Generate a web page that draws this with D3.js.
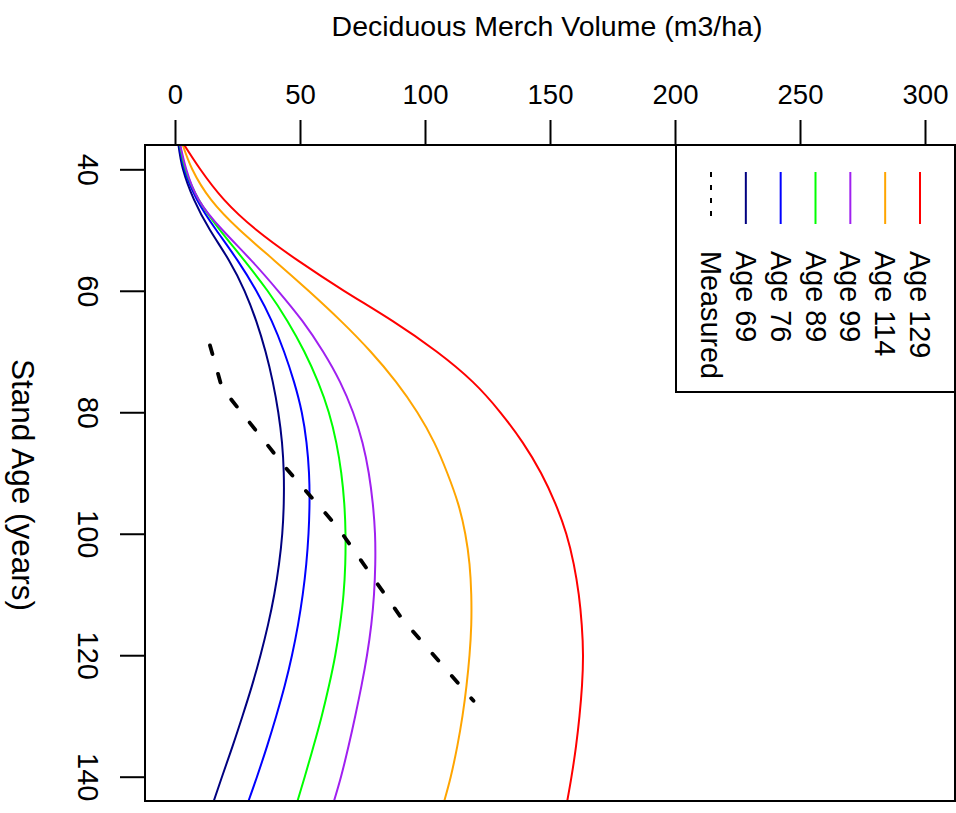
<!DOCTYPE html>
<html>
<head>
<meta charset="utf-8">
<script src="https://cdn.jsdelivr.net/npm/d3@7"></script>
<style>
  html, body { margin: 0; padding: 0; background: #ffffff; }
  svg text { font-family: "Liberation Sans", Arial, Helvetica, sans-serif; fill: #000; }
</style>
</head>
<body>
<svg id="chart" width="956" height="813"></svg>
<script>
// Stand age grid (years) on which the projected volume curves are tabulated
const ages = [36, 40, 45, 50, 55, 60, 65, 70, 75, 80, 85, 90, 95, 100, 105, 110, 115, 120, 125, 130, 135, 140, 144];

// Projected deciduous merchantable volume (m3/ha), one series per calibration age
const age69  = [1.4, 3.2, 7.6, 14.0, 21.6, 27.8, 32.5, 36.2, 39.1, 41.3, 42.8, 43.5, 43.5, 42.9, 41.6, 39.7, 37.2, 34.2, 30.8, 27.0, 23.0, 18.8, 15.5];
const age76  = [1.7, 3.7, 8.8, 16.5, 25.0, 32.5, 38.7, 43.6, 47.6, 50.7, 52.6, 53.6, 53.8, 53.4, 52.5, 51.1, 49.2, 46.8, 43.9, 40.5, 36.8, 32.8, 29.4];
const age89  = [2.0, 4.2, 9.5, 18.0, 27.7, 37.0, 45.0, 51.7, 57.2, 61.5, 64.5, 66.5, 67.7, 68.2, 68.1, 67.4, 66.0, 64.1, 61.6, 58.7, 55.4, 51.9, 49.0];
const age99  = [2.1, 4.5, 9.5, 19.0, 30.5, 41.2, 51.0, 59.2, 66.0, 71.2, 75.0, 77.5, 79.1, 80.0, 80.1, 79.6, 78.5, 76.8, 74.6, 72.1, 69.4, 66.4, 63.6];
const age114 = [3.1, 6.9, 14.4, 25.9, 39.7, 53.4, 66.4, 78.2, 88.4, 96.9, 103.7, 108.9, 113.2, 116.1, 117.8, 118.5, 118.5, 117.8, 116.6, 115.0, 112.9, 110.3, 107.7];
const age129 = [3.7, 10.1, 19.6, 32.6, 49.1, 67.6, 87.1, 104.6, 119.1, 130.1, 139.1, 146.4, 152.1, 156.5, 159.5, 161.5, 162.7, 163.2, 162.8, 161.8, 160.4, 158.6, 156.9];

// Measured stand volume
const measuredAges = [69, 76, 89, 99, 114, 127.5];
const measuredVol  = [14.0, 18.8, 44.0, 65.2, 90.8, 119.4];

// Legend entries (left to right) and axis ticks
const legendLabels = ["Measured", "Age 69", "Age 76", "Age 89", "Age 99", "Age 114", "Age 129"];
const legendColors = ["#000000", "#000080", "#0000FF", "#00FF00", "#A020F0", "#FFA500", "#FF0000"];
const volumeTicks = [0, 50, 100, 150, 200, 250, 300];
const ageTicks = [40, 60, 80, 100, 120, 140];

const seriesList = [
  { values: age69,  color: "#000080" },
  { values: age76,  color: "#0000FF" },
  { values: age89,  color: "#00FF00" },
  { values: age99,  color: "#A020F0" },
  { values: age114, color: "#FFA500" },
  { values: age129, color: "#FF0000" }
];

const svg = d3.select("#chart");
const plot = { left: 145, right: 955, top: 145, bottom: 801 };

// Volume runs left to right along the top; stand age runs downward
const x = d3.scaleLinear().domain([-12, 312]).range([plot.left, plot.right]);
const y = d3.scaleLinear().domain([36, 144]).range([plot.top, plot.bottom]);

svg.append("defs").append("clipPath").attr("id", "plot-clip")
  .append("rect")
  .attr("x", plot.left).attr("y", plot.top)
  .attr("width", plot.right - plot.left).attr("height", plot.bottom - plot.top);

const lines = svg.append("g").attr("clip-path", "url(#plot-clip)");

const curveLine = d3.line()
  .x(d => x(d[1]))
  .y(d => y(d[0]))
  .curve(d3.curveNatural);

seriesList.forEach(s => {
  lines.append("path")
    .datum(ages.map((a, i) => [a, s.values[i]]))
    .attr("fill", "none")
    .attr("stroke", s.color)
    .attr("stroke-width", 2)
    .attr("d", curveLine);
});

const measuredLine = d3.line().x(d => x(d[1])).y(d => y(d[0]));
lines.append("path")
  .datum(measuredAges.map((a, i) => [a, measuredVol[i]]))
  .attr("fill", "none")
  .attr("stroke", "#000")
  .attr("stroke-width", 3.8)
  .attr("stroke-linecap", "round")
  .attr("stroke-dasharray", "9 20.5")
  .attr("d", measuredLine);

// Plot frame
svg.append("rect")
  .attr("x", plot.left).attr("y", plot.top)
  .attr("width", plot.right - plot.left).attr("height", plot.bottom - plot.top)
  .attr("fill", "none").attr("stroke", "#000").attr("stroke-width", 2);

// Volume axis along the top
const xAxis = svg.append("g")
  .attr("transform", `translate(0,${plot.top})`)
  .call(d3.axisTop(x).tickValues(volumeTicks).tickSize(25).tickPadding(16));
xAxis.select(".domain").remove();
xAxis.selectAll(".tick line").attr("stroke", "#000").attr("stroke-width", 2);
xAxis.selectAll(".tick text")
  .attr("font-size", 27.5)
  .attr("font-family", "Liberation Sans, Arial, sans-serif");

// Stand age axis on the left, labels turned to read downward
const yAxis = svg.append("g")
  .attr("transform", `translate(${plot.left},0)`)
  .call(d3.axisLeft(y).tickValues(ageTicks).tickSize(25));
yAxis.select(".domain").remove();
yAxis.selectAll(".tick line").attr("stroke", "#000").attr("stroke-width", 2);
yAxis.selectAll(".tick text")
  .attr("font-size", 29)
  .attr("font-family", "Liberation Sans, Arial, sans-serif")
  .attr("x", null).attr("dy", null)
  .attr("text-anchor", "middle")
  .attr("transform", "translate(-67,0) rotate(90)");

// Axis titles
svg.append("text")
  .attr("x", 547).attr("y", 36)
  .attr("text-anchor", "middle")
  .attr("font-size", 28.5)
  .text("Deciduous Merch Volume (m3/ha)");

svg.append("text")
  .attr("transform", "translate(12,485) rotate(90)")
  .attr("text-anchor", "middle")
  .attr("font-size", 31.5)
  .text("Stand Age (years)");

// Legend
const legend = svg.append("g");
legend.append("rect")
  .attr("x", 676).attr("y", plot.top)
  .attr("width", plot.right - 676).attr("height", 392 - plot.top)
  .attr("fill", "#fff").attr("stroke", "#000").attr("stroke-width", 2);

const legendX = d3.scalePoint().domain(legendLabels).range([711, 920]);

legendLabels.forEach((lab, i) => {
  const cx = legendX(lab);
  legend.append("line")
    .attr("x1", cx).attr("x2", cx)
    .attr("y1", 172).attr("y2", 224)
    .attr("stroke", legendColors[i])
    .attr("stroke-width", 2)
    .attr("stroke-dasharray", i === 0 ? "5 8" : null);
  legend.append("text")
    .attr("transform", `translate(${cx - 10},251) rotate(90)`)
    .attr("text-anchor", "start")
    .attr("font-size", 28.8)
    .text(lab);
});
</script>
</body>
</html>
